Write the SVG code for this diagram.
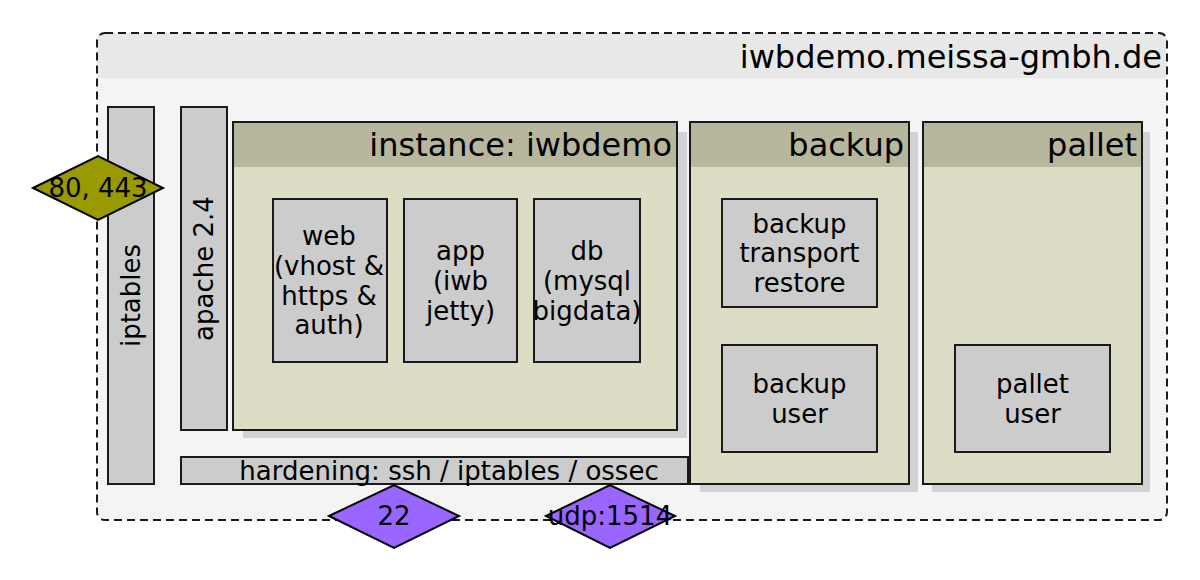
<svg xmlns="http://www.w3.org/2000/svg" width="1200" height="580" viewBox="0 0 1200 580">
<style>
text{font-family:"DejaVu Sans","Liberation Sans",sans-serif;fill:#000}
.t{font-size:26px;text-anchor:middle}
.h{font-size:32px;text-anchor:end}
.box{fill:#cccccc;stroke:#1a1a1a;stroke-width:2}
.pkg{fill:#dddcc5;stroke:#1a1a1a;stroke-width:2}
.ph{fill:#b7b79d}
.sh{fill:#d2d2d2}
.dy{fill:#999900;stroke:#000;stroke-width:2}
.dp{fill:#9966ff;stroke:#000;stroke-width:2}
</style>
<g id="host">
<rect x="97" y="33" width="1070" height="487" rx="8" fill="#f4f4f4"/>
<path d="M97,78 V41 a8,8 0 0 1 8,-8 H1159 a8,8 0 0 1 8,8 V78 Z" fill="#e8e8e8"/>
<rect x="97" y="33" width="1070" height="487" rx="8" fill="none" stroke="#1a1a1a" stroke-width="2" stroke-dasharray="8,5"/>
<text class="h" x="1162" y="68" font-size="33">iwbdemo.meissa-gmbh.de</text>
</g>
<g id="iptables">
<rect class="box" x="108" y="107" width="46" height="377"/>
<text class="t" transform="translate(140,295.5) rotate(-90)">iptables</text>
</g>
<g id="apache">
<rect class="box" x="181" y="107" width="46" height="323"/>
<text class="t" transform="translate(213,268.5) rotate(-90)">apache 2.4</text>
</g>
<g id="instance">
<rect class="sh" x="243" y="132" width="444" height="306"/>
<rect class="pkg" x="233" y="122" width="444" height="308"/>
<rect class="ph" x="234" y="123" width="442" height="44"/>
<text class="h" x="672" y="156">instance: iwbdemo</text>
</g>
<g id="web">
<rect class="box" x="273" y="199" width="114" height="163"/>
<text class="t" x="329" y="245">web</text>
<text class="t" x="329" y="275">(vhost &amp;</text>
<text class="t" x="329" y="305">https &amp;</text>
<text class="t" x="329" y="334">auth)</text>
</g>
<g id="app">
<rect class="box" x="404" y="199" width="113" height="163"/>
<text class="t" x="460.5" y="260">app</text>
<text class="t" x="460.5" y="290">(iwb</text>
<text class="t" x="460.5" y="320">jetty)</text>
</g>
<g id="db">
<rect class="box" x="534" y="199" width="106" height="163"/>
<text class="t" x="587" y="260">db</text>
<text class="t" x="587" y="290">(mysql</text>
<text class="t" x="587" y="320">bigdata)</text>
</g>
<g id="backup">
<rect class="sh" x="700" y="132" width="218" height="360"/>
<rect class="pkg" x="690" y="122" width="219" height="362"/>
<rect class="ph" x="691" y="123" width="217" height="44"/>
<text class="h" x="904" y="156">backup</text>
</g>
<g id="backup-transport">
<rect class="box" x="722" y="199" width="155" height="108"/>
<text class="t" x="799.5" y="233">backup</text>
<text class="t" x="799.5" y="262">transport</text>
<text class="t" x="799.5" y="292">restore</text>
</g>
<g id="backup-user">
<rect class="box" x="722" y="345" width="155" height="107"/>
<text class="t" x="799.5" y="393">backup</text>
<text class="t" x="799.5" y="423">user</text>
</g>
<g id="pallet">
<rect class="sh" x="932" y="132" width="218" height="360"/>
<rect class="pkg" x="923" y="122" width="219" height="362"/>
<rect class="ph" x="924" y="123" width="217" height="44"/>
<text class="h" x="1137" y="156">pallet</text>
</g>
<g id="pallet-user">
<rect class="box" x="955" y="345" width="155" height="107"/>
<text class="t" x="1032.5" y="393">pallet</text>
<text class="t" x="1032.5" y="423">user</text>
</g>
<g id="hardening">
<rect class="box" x="181" y="457" width="507" height="27"/>
<text class="t" x="449" y="480" font-size="27.5">hardening: ssh / iptables / ossec</text>
</g>
<g id="port-80-443">
<polygon class="dy" points="33,188 98,156 163,188 98,220"/>
<text class="t" x="98" y="197">80, 443</text>
</g>
<g id="port-22">
<polygon class="dp" points="329,516 394,485 459,516 394,548"/>
<text class="t" x="394" y="525">22</text>
</g>
<g id="port-udp1514">
<polygon class="dp" points="546,516 610,485 675,516 610,548"/>
<text class="t" x="610" y="525">udp:1514</text>
</g>
<g id="connectors"></g>
</svg>
